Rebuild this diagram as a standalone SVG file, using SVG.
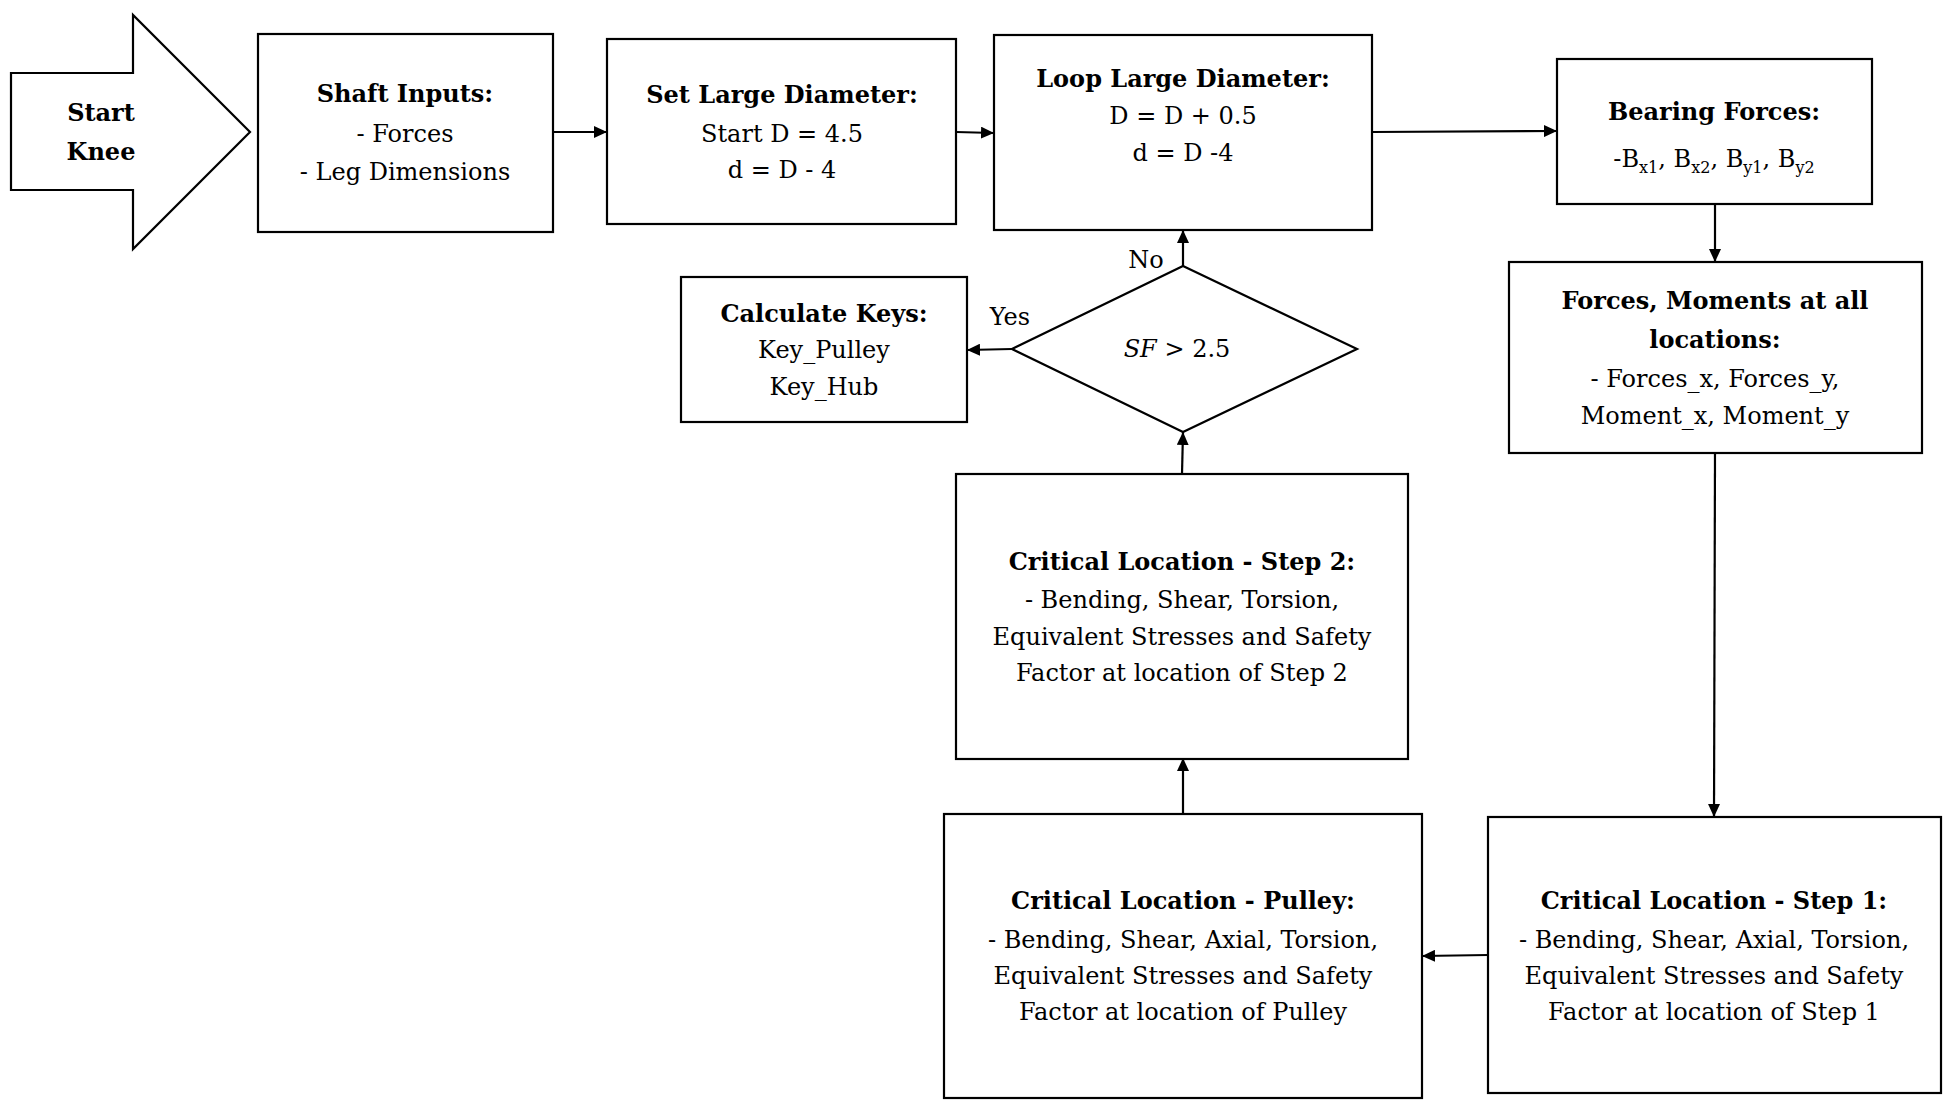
<svg xmlns="http://www.w3.org/2000/svg" width="1952" height="1108" viewBox="0 0 1952 1108">
<style>
.box{fill:#fff;stroke:#000;stroke-width:2.2}
.t{font-family:"DejaVu Serif","Liberation Serif",serif;font-size:24px;fill:#000;text-anchor:middle}
.b{font-weight:bold}
.sub{font-size:16px}
.c{fill:none;stroke:#000;stroke-width:2.2}
</style>
<defs>
<marker id="ah" markerUnits="userSpaceOnUse" markerWidth="14" markerHeight="12" refX="13" refY="6" orient="auto">
<path d="M0,0 L13,6 L0,12 z" fill="#000"/>
</marker>
</defs>
<rect width="1952" height="1108" fill="#fff"/>
<g id="connectors">
<line class="c" x1="553" y1="132" x2="607" y2="132" marker-end="url(#ah)"/>
<line class="c" x1="956" y1="132" x2="994" y2="133" marker-end="url(#ah)"/>
<line class="c" x1="1372" y1="132" x2="1557" y2="131" marker-end="url(#ah)"/>
<line class="c" x1="1715" y1="204" x2="1715" y2="262" marker-end="url(#ah)"/>
<line class="c" x1="1715" y1="453" x2="1714" y2="817" marker-end="url(#ah)"/>
<line class="c" x1="1488" y1="955" x2="1422" y2="956" marker-end="url(#ah)"/>
<line class="c" x1="1183" y1="814" x2="1183" y2="758" marker-end="url(#ah)"/>
<line class="c" x1="1182" y1="474" x2="1183" y2="432" marker-end="url(#ah)"/>
<line class="c" x1="1183" y1="266" x2="1183" y2="230" marker-end="url(#ah)"/>
<line class="c" x1="1012" y1="349" x2="967" y2="350" marker-end="url(#ah)"/>
<text class="t" x="1146" y="268">No</text>
<text class="t" x="1010" y="325">Yes</text>
</g>
<g id="start">
<polygon class="box" points="11,73 133,73 133,15 250,132 133,249 133,190 11,190"/>
<text class="t b" x="101" y="121">Start</text>
<text class="t b" x="101" y="160">Knee</text>
</g>
<g id="shaft-inputs">
<rect class="box" x="258" y="34" width="295" height="198"/>
<text class="t b" x="405" y="102">Shaft Inputs:</text>
<text class="t" x="405" y="142">- Forces</text>
<text class="t" x="405" y="180">- Leg Dimensions</text>
</g>
<g id="set-diameter">
<rect class="box" x="607" y="39" width="349" height="185"/>
<text class="t b" x="782" y="103">Set Large Diameter:</text>
<text class="t" x="782" y="142">Start D = 4.5</text>
<text class="t" x="782" y="178">d = D - 4</text>
</g>
<g id="loop-diameter">
<rect class="box" x="994" y="35" width="378" height="195"/>
<text class="t b" x="1183" y="87">Loop Large Diameter:</text>
<text class="t" x="1183" y="124">D = D + 0.5</text>
<text class="t" x="1183" y="161">d = D -4</text>
</g>
<g id="bearing-forces">
<rect class="box" x="1557" y="59" width="315" height="145"/>
<text class="t b" x="1714" y="120">Bearing Forces:</text>
<text class="t" x="1714" y="167">-B<tspan class="sub" dy="6">x1</tspan><tspan dy="-6">, B</tspan><tspan class="sub" dy="6">x2</tspan><tspan dy="-6">, B</tspan><tspan class="sub" dy="6">y1</tspan><tspan dy="-6">, B</tspan><tspan class="sub" dy="6">y2</tspan></text>
</g>
<g id="forces-moments">
<rect class="box" x="1509" y="262" width="413" height="191"/>
<text class="t b" x="1715" y="309">Forces, Moments at all</text>
<text class="t b" x="1715" y="348">locations:</text>
<text class="t" x="1715" y="387">- Forces_x, Forces_y,</text>
<text class="t" x="1715" y="424">Moment_x, Moment_y</text>
</g>
<g id="critical-step1">
<rect class="box" x="1488" y="817" width="453" height="276"/>
<text class="t b" x="1714" y="909">Critical Location - Step 1:</text>
<text class="t" x="1714" y="948">- Bending, Shear, Axial, Torsion,</text>
<text class="t" x="1714" y="984">Equivalent Stresses and Safety</text>
<text class="t" x="1714" y="1020">Factor at location of Step 1</text>
</g>
<g id="critical-pulley">
<rect class="box" x="944" y="814" width="478" height="284"/>
<text class="t b" x="1183" y="909">Critical Location - Pulley:</text>
<text class="t" x="1183" y="948">- Bending, Shear, Axial, Torsion,</text>
<text class="t" x="1183" y="984">Equivalent Stresses and Safety</text>
<text class="t" x="1183" y="1020">Factor at location of Pulley</text>
</g>
<g id="critical-step2">
<rect class="box" x="956" y="474" width="452" height="285"/>
<text class="t b" x="1182" y="570">Critical Location - Step 2:</text>
<text class="t" x="1182" y="608">- Bending, Shear, Torsion,</text>
<text class="t" x="1182" y="645">Equivalent Stresses and Safety</text>
<text class="t" x="1182" y="681">Factor at location of Step 2</text>
</g>
<g id="decision">
<polygon class="box" points="1183,266 1357,349 1183,432 1012,349"/>
<text class="t" x="1177" y="357"><tspan font-style="italic">SF</tspan> &gt; 2.5</text>
</g>
<g id="calculate-keys">
<rect class="box" x="681" y="277" width="286" height="145"/>
<text class="t b" x="824" y="322">Calculate Keys:</text>
<text class="t" x="824" y="358">Key_Pulley</text>
<text class="t" x="824" y="395">Key_Hub</text>
</g>
</svg>
